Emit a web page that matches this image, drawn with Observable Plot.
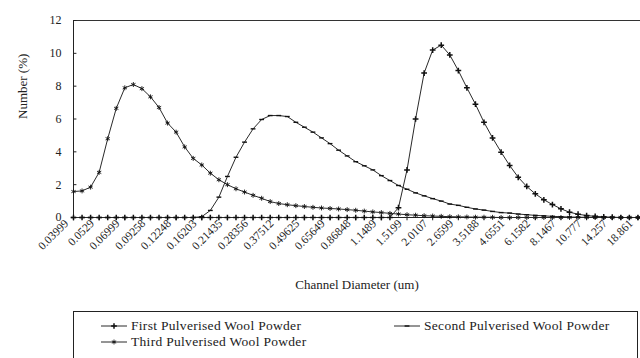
<!DOCTYPE html>
<html><head><meta charset="utf-8">
<script src="https://cdn.jsdelivr.net/npm/d3@7"></script>
<script src="https://cdn.jsdelivr.net/npm/@observablehq/plot@0.6"></script>
<style>
body{margin:0;background:#fff;font-family:"Liberation Serif",serif;}
#chart{width:640px;height:300px;}
#legend{position:relative;margin-left:73px;margin-top:11px;width:565px;height:47px;border:1px solid #222;border-bottom:none;box-sizing:border-box;}
.item{position:absolute;display:flex;align-items:center;font-size:13.5px;letter-spacing:0.3px;color:#222;white-space:nowrap;height:14px;}
.item svg{margin-right:4px;}
</style></head><body>
<div id="chart"></div>
<div id="legend"></div>
<script>
const labels = ["0.03999","0.0529","0.06999","0.09258","0.12248","0.16203","0.21435","0.28356","0.37512","0.49625","0.65649","0.86848","1.1489","1.5199","2.0107","2.6599","3.5188","4.6551","6.1582","8.1467","10.777","14.257","18.861"];
const names = ["First Pulverised Wool Powder","Second Pulverised Wool Powder","Third Pulverised Wool Powder"];
const yTicks = [0,2,4,6,8,10,12];

const first = [0,0,0,0,0,0,0,0,0,0, 0,0,0,0,0,0,0,0,0,0, 0,0,0,0,0,0,0,0,0,0, 0,0,0,0,0,0,0,0,
  0.6,2.9,6.0,8.8,10.2,10.5,9.9,8.95,7.9,6.9,5.8,4.85,3.98,3.17,2.45,1.89,1.44,1.08,0.79,0.53,0.32,0.2,0.12,0.07,0.04,0.02,0,0,0];
const second = [0,0,0,0,0,0,0,0,0,0, 0,0,0,0,0,
  0.05,0.43,1.24,2.5,3.67,4.59,5.4,5.97,6.21,6.21,6.15,5.8,5.5,5.2,4.85,4.5,4.1,3.75,3.4,3.15,2.9,2.55,2.25,1.95,1.72,1.5,1.32,1.15,1.0,0.82,0.74,0.62,0.52,0.45,0.37,0.3,0.27,0.21,0.17,0.13,0.1,0.07,0.05,0.03,0.02,0.01,
  0,0,0,0,0,0];
const third = [1.58,1.62,1.85,2.75,4.8,6.65,7.9,8.1,7.85,7.35,6.7,5.75,5.2,4.3,3.6,3.2,2.7,2.3,2.0,1.75,1.55,1.35,1.17,0.97,0.85,0.78,0.72,0.67,0.62,0.58,0.55,0.52,0.48,0.44,0.39,0.34,0.3,0.25,0.21,0.17,0.14,0.11,0.09,0.07,0.05,0.04,0.03,0.02,0.02,0.01,
  0,0,0,0,0,0,0,0,0,0,0,0,0,0,0,0,0];

const series = [first, second, third];
const rows = [];
series.forEach((arr, k) => arr.forEach((v, i) => rows.push({series: names[k], i, v})));

const dash = {draw(ctx, size){ const r = Math.sqrt(size/Math.PI); ctx.moveTo(-r,0); ctx.lineTo(r,0); }};
const symbols = ["plus", dash, "asterisk"];
const symW = [1.5, 1.4, 0.9];
const symR = [2.0, 2.4, 2.3];
const xTicks = d3.range(0, 67, 3);

const plot = Plot.plot({
  width: 640, height: 300,
  marginLeft: 73, marginRight: 0, marginTop: 20, marginBottom: 83,
  style: {fontFamily: '"Liberation Serif", serif', fontSize: "11px", color: "#222", background: "#fff"},
  x: {domain: [0, 66.3]},
  y: {domain: [0, 12]},
  marks: [
    Plot.ruleY([12], {stroke: "#333"}),
    Plot.ruleX([0], {stroke: "#222"}),
    Plot.ruleY([0], {stroke: "#222"}),
    Plot.ruleY(yTicks, {x1: 0, x2: 0.4, stroke: "#222"}),
    Plot.ruleX(xTicks, {y1: 0, y2: -0.2, stroke: "#222"}),
    Plot.axisY({ticks: yTicks, tickSize: 0, tickPadding: 12, fontSize: 12, label: null}),
    Plot.axisX({ticks: xTicks, tickFormat: i => labels[i/3], tickRotate: -45, tickSize: 0, tickPadding: 4, dx: -7, label: null, fontSize: 11.5}),
    Plot.text(["Number (%)"], {text: d => d, frameAnchor: "left", rotate: -90, dx: -51, fontSize: 13}),
    Plot.text(["Channel Diameter (um)"], {text: d => d, frameAnchor: "bottom", dy: 71, fontSize: 13}),
    Plot.line(rows, {x: "i", y: "v", z: "series", stroke: "#2a2a2a", strokeWidth: 1}),
    ...names.map((n, k) => Plot.dot(rows.filter(d => d.series === n), {x: "i", y: "v", symbol: symbols[k], r: symR[k], stroke: "#111", fill: "none", strokeWidth: symW[k]}))
  ]
});
document.getElementById("chart").appendChild(plot);

// legend
const legend = d3.select("#legend");
const pos = [[27, 7], [320, 7], [27, 23]];
names.forEach((n, k) => {
  const item = legend.append("div").attr("class", "item").style("left", pos[k][0] + "px").style("top", pos[k][1] + "px");
  const s = item.append("svg").attr("width", 26).attr("height", 10);
  s.append("line").attr("x1", 0).attr("x2", 26).attr("y1", 5).attr("y2", 5).attr("stroke", "#2a2a2a").attr("stroke-width", 1);
  const type = k === 0 ? d3.symbolPlus : k === 1 ? dash : d3.symbolAsterisk;
  s.append("path").attr("transform", "translate(13,5)")
    .attr("d", d3.symbol(type, Math.PI * symR[k] * symR[k])())
    .attr("fill", "none").attr("stroke", "#111").attr("stroke-width", symW[k]);
  item.append("span").text(n);
});
</script></body></html>
